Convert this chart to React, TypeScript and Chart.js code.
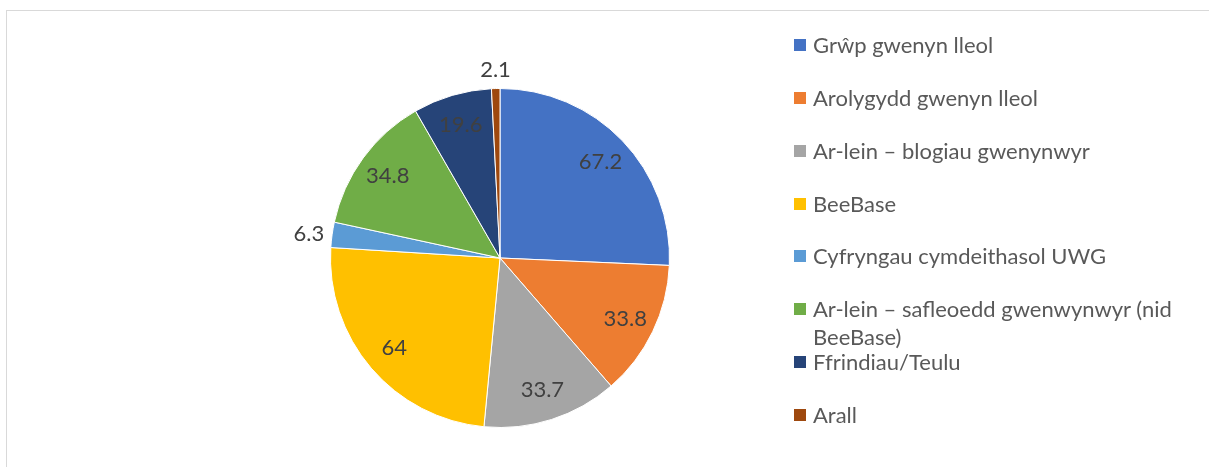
import React, { useEffect, useRef } from "react";
import { Chart, registerables } from "chart.js";

Chart.register(...registerables);

const categories = [
  "Grŵp gwenyn lleol",
  "Arolygydd gwenyn lleol",
  "Ar-lein – blogiau gwenynwyr",
  "BeeBase",
  "Cyfryngau cymdeithasol UWG",
  "Ar-lein – safleoedd gwenwynwyr (nid BeeBase)",
  "Ffrindiau/Teulu",
  "Arall",
];
const values = [67.2, 33.8, 33.7, 64, 6.3, 34.8, 19.6, 2.1];
const colors = [
  "#4472C4",
  "#ED7D31",
  "#A5A5A5",
  "#FFC000",
  "#5B9BD5",
  "#70AD47",
  "#264478",
  "#9E480E",
];

const FONT = "Lato, 'Open Sans', sans-serif";
const LABEL_SIZE = 22;

const labelPlugin = {
  id: "sliceLabels",
  afterDatasetsDraw(chart: any) {
    const ctx = chart.ctx;
    const meta = chart.getDatasetMeta(0);
    const data = chart.data.datasets[0].data as number[];
    const total = data.reduce((a, b) => a + b, 0);
    ctx.save();
    ctx.font = `${LABEL_SIZE}px ${FONT}`;
    ctx.fillStyle = "#404040";
    meta.data.forEach((arc: any, i: number) => {
      const { x, y, startAngle, endAngle, outerRadius } = arc.getProps(
        ["x", "y", "startAngle", "endAngle", "outerRadius"],
        true
      );
      const mid = (startAngle + endAngle) / 2;
      const cos = Math.cos(mid);
      const sin = Math.sin(mid);
      const text = String(data[i]);
      if (data[i] / total > 0.05) {
        const r = outerRadius * 0.82;
        ctx.textAlign = "center";
        ctx.textBaseline = "middle";
        ctx.fillText(text, x + cos * r, y + sin * r);
      } else {
        const r = outerRadius + 8;
        const px = x + cos * r;
        const py = y + sin * r;
        if (Math.abs(cos) > Math.abs(sin)) {
          ctx.textAlign = cos < 0 ? "right" : "left";
          ctx.textBaseline = "middle";
        } else {
          ctx.textAlign = "center";
          ctx.textBaseline = sin < 0 ? "bottom" : "top";
        }
        ctx.fillText(text, px, py);
      }
    });
    ctx.restore();
  },
};

export default function App() {
  const canvasRef = useRef<HTMLCanvasElement | null>(null);

  useEffect(() => {
    if (!canvasRef.current) return;
    const chart = new Chart(canvasRef.current, {
      type: "pie",
      data: {
        labels: categories,
        datasets: [
          {
            data: values,
            backgroundColor: colors,
            borderColor: "#FFFFFF",
            borderWidth: 1,
          },
        ],
      },
      options: {
        responsive: false,
        animation: false,
        devicePixelRatio: 1,
        layout: { padding: { top: 87, bottom: 38, left: 130, right: 130 } },
        plugins: {
          legend: { display: false },
          tooltip: { enabled: false },
        },
      },
      plugins: [labelPlugin],
    });
    return () => chart.destroy();
  }, []);

  const slot = 52.86;

  return (
    <div
      style={{
        position: "fixed",
        left: 0,
        top: 0,
        width: 1209,
        height: 467,
        overflow: "hidden",
        background: "#FFFFFF",
        fontFamily: FONT,
      }}
    >
      <div
        style={{
          position: "absolute",
          left: 6,
          top: 10,
          width: 1230,
          height: 500,
          border: "1px solid #D9D9D9",
          boxSizing: "border-box",
        }}
      />
      <canvas
        ref={canvasRef}
        width={600}
        height={467}
        style={{ position: "absolute", left: 200, top: 0, width: 600, height: 467 }}
      />
      {categories.map((c, i) => (
        <div
          key={c}
          style={{
            position: "absolute",
            left: 794,
            top: 45 + i * slot - 14,
            width: 400,
            display: "flex",
            alignItems: "flex-start",
          }}
        >
          <div
            style={{
              width: 12,
              height: 12,
              background: colors[i],
              marginTop: 8,
              flex: "0 0 auto",
            }}
          />
          <div
            style={{
              marginLeft: 7,
              fontSize: 22,
              lineHeight: "28px",
              color: "#595959",
              width: 375,
            }}
          >
            {c}
          </div>
        </div>
      ))}
    </div>
  );
}
